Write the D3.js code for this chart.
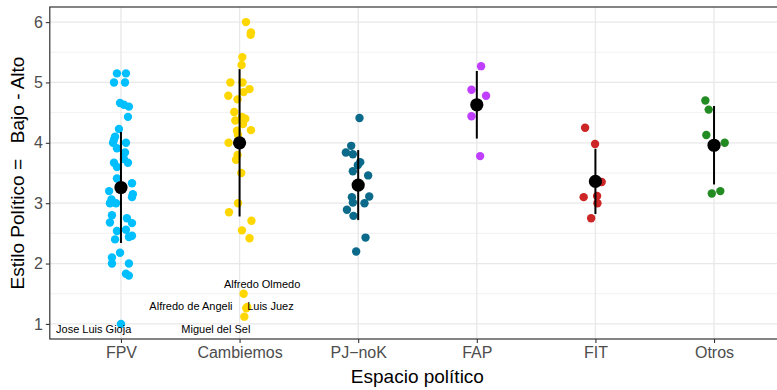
<!DOCTYPE html>
<html>
<head>
<meta charset="utf-8">
<script src="https://cdn.jsdelivr.net/npm/d3@7"></script>
<style>
  html, body { margin: 0; padding: 0; background: #fff; }
  svg { display: block; font-family: "Liberation Sans", Arial, Helvetica, sans-serif; }
</style>
</head>
<body>
<svg id="chart" width="777" height="390"></svg>
<script>
// ---- DATA ----
const categories = ["FPV", "Cambiemos", "PJ\u2212noK", "FAP", "FIT", "Otros"];
const colors = ["#00BFFF", "#FFD700", "#0B6A8A", "#BF3EFF", "#CD2626", "#228B22"];
const yTicks = [1, 2, 3, 4, 5, 6];

const fpvValues = [5.15,5.15,5.0,5.0,4.66,4.63,4.60,4.43,4.23,4.10,4.05,4.0,4.0,3.91,3.84,3.73,3.67,3.67,3.60,3.41,3.33,3.20,3.15,3.10,3.06,3.0,3.0,2.80,2.75,2.68,2.67,2.54,2.56,2.46,2.44,2.40,2.18,2.10,2.0,2.0,1.83,1.80,1.0];
const fpvJitter = [-0.034,0.042,-0.059,0.034,-0.008,0.025,0.067,0.059,-0.017,-0.05,-0.059,-0.067,0.042,-0.034,0.034,0.025,-0.059,0.059,-0.034,-0.034,0.093,-0.1,0.1,0.093,-0.08,-0.093,-0.042,-0.076,0.05,-0.093,0.093,-0.034,0.042,0.093,0.067,-0.05,-0.008,-0.076,-0.076,0.067,0.042,0.067,0.0];

const cambValues = [6.0,5.83,5.79,5.42,5.29,5.0,5.0,4.89,4.84,4.78,4.72,4.51,4.37,4.43,4.40,4.31,4.20,4.21,4.13,4.0,3.80,3.72,3.50,3.0,2.85,2.71,2.55,2.42,1.50,1.26,1.28,1.12];
const cambJitter = [0.054,0.096,0.093,0.023,0.017,-0.078,0.025,0.084,0.034,-0.095,-0.017,-0.045,-0.036,0.02,0.048,0.029,-0.022,0.096,-0.013,-0.093,-0.017,-0.03,0.014,-0.013,-0.089,0.1,0.02,0.084,0.034,0.056,0.065,0.04];

const pjValues = [4.41,3.95,3.84,3.81,3.68,3.63,3.53,3.46,3.10,3.11,3.01,3.0,2.89,2.79,2.43,2.20];
const pjJitter = [0.011,-0.059,-0.104,-0.045,0.017,-0.003,-0.045,0.084,-0.053,0.093,-0.045,0.053,-0.095,-0.04,0.062,-0.017];

const fapValues = [5.27,4.88,4.78,4.44,3.78];
const fapJitter = [0.036,-0.045,0.078,-0.045,0.028];

const fitValues = [4.25,3.98,3.35,3.10,3.12,3.0,2.75];
const fitJitter = [-0.087,-0.003,0.053,-0.099,0.014,0.017,-0.036];

const otrosValues = [4.70,4.55,4.13,4.0,3.16,3.20];
const otrosJitter = [-0.073,-0.045,-0.065,0.09,-0.019,0.053];

const means = [3.26, 4.0, 3.30, 4.63, 3.36, 3.96];
const sds = [0.92, 1.22, 0.58, 0.56, 0.54, 0.65];

// labelled politicians: label position in data units (category index 1..6, value)
const labelNames = ["Jose Luis Gioja", "Miguel del Sel", "Alfredo de Angeli", "Luis Juez", "Alfredo Olmedo"];
const labelX = [0.77, 1.80, 1.59, 2.26, 2.19];
const labelY = [0.92, 0.92, 1.30, 1.30, 1.66];

// ---- BUILD ----
const valueSets = [fpvValues, cambValues, pjValues, fapValues, fitValues, otrosValues];
const jitterSets = [fpvJitter, cambJitter, pjJitter, fapJitter, fitJitter, otrosJitter];
const points = [];
valueSets.forEach((vals, i) => vals.forEach((v, k) => points.push({cat: categories[i], ci: i, v: v, j: jitterSets[i][k]})));

const svg = d3.select("#chart");
const panel = {left: 49.8, right: 785.2, top: 7, bottom: 339};

const x = d3.scalePoint().domain(categories).range([panel.left, panel.right]).padding(0.6);
const step = x.step();
const xIdx = d => x(categories[0]) + (d - 1) * step;
const y = d3.scaleLinear().domain([0.75, 6.25]).range([panel.bottom, panel.top]);

svg.append("rect").attr("x", panel.left).attr("y", panel.top)
  .attr("width", panel.right - panel.left).attr("height", panel.bottom - panel.top)
  .attr("fill", "#fff");

// grid
const grid = svg.append("g");
const minor = d3.range(1.5, 6.0, 1);
grid.selectAll("line.minor").data(minor).enter().append("line")
  .attr("x1", panel.left).attr("x2", panel.right)
  .attr("y1", d => y(d)).attr("y2", d => y(d))
  .attr("stroke", "#EBEBEB").attr("stroke-width", 0.7);
grid.selectAll("line.majy").data(yTicks).enter().append("line")
  .attr("x1", panel.left).attr("x2", panel.right)
  .attr("y1", d => y(d)).attr("y2", d => y(d))
  .attr("stroke", "#E8E8E8").attr("stroke-width", 1.3);
grid.selectAll("line.majx").data(categories).enter().append("line")
  .attr("x1", d => x(d)).attr("x2", d => x(d))
  .attr("y1", panel.top).attr("y2", panel.bottom)
  .attr("stroke", "#E8E8E8").attr("stroke-width", 1.3);

// jittered points
svg.append("g").selectAll("circle").data(points).enter().append("circle")
  .attr("cx", d => x(d.cat) + d.j * step)
  .attr("cy", d => y(d.v))
  .attr("r", 4.2)
  .attr("fill", d => colors[d.ci]);

// labels
svg.append("g").selectAll("text").data(labelNames).enter().append("text")
  .attr("x", (d, i) => xIdx(labelX[i]))
  .attr("y", (d, i) => y(labelY[i]))
  .attr("text-anchor", "middle")
  .attr("dominant-baseline", "central")
  .attr("font-size", 11)
  .attr("fill", "#000")
  .text(d => d);

// error bars + means
const summ = svg.append("g");
summ.selectAll("line").data(categories).enter().append("line")
  .attr("x1", d => x(d)).attr("x2", d => x(d))
  .attr("y1", (d, i) => y(means[i] - sds[i]))
  .attr("y2", (d, i) => y(means[i] + sds[i]))
  .attr("stroke", "#000").attr("stroke-width", 2);
summ.selectAll("circle").data(categories).enter().append("circle")
  .attr("cx", d => x(d)).attr("cy", (d, i) => y(means[i]))
  .attr("r", 6.6).attr("fill", "#000");

// panel border
svg.append("rect").attr("x", panel.left).attr("y", panel.top)
  .attr("width", panel.right - panel.left).attr("height", panel.bottom - panel.top)
  .attr("fill", "none").attr("stroke", "#333333").attr("stroke-width", 1.2);

// axes
const xAxis = svg.append("g").attr("transform", `translate(0,${panel.bottom})`)
  .call(d3.axisBottom(x).tickSize(4).tickPadding(4));
const yAxis = svg.append("g").attr("transform", `translate(${panel.left},0)`)
  .call(d3.axisLeft(y).tickValues(yTicks).tickSize(4).tickPadding(3).tickFormat(d3.format("d")));
[xAxis, yAxis].forEach(a => {
  a.select(".domain").remove();
  a.selectAll(".tick line").attr("stroke", "#333333").attr("stroke-width", 1.1);
  a.selectAll(".tick text").attr("fill", "#4D4D4D").attr("font-size", 16)
    .attr("font-family", "Liberation Sans, Arial, sans-serif");
});

// axis titles
svg.append("text").attr("x", (panel.left + 777) / 2 + 4).attr("y", 383)
  .attr("text-anchor", "middle").attr("font-size", 19).attr("fill", "#000")
  .text("Espacio político");
svg.append("text")
  .attr("transform", `translate(24,${(panel.top + panel.bottom) / 2}) rotate(-90)`)
  .attr("text-anchor", "middle").attr("font-size", 19).attr("fill", "#000")
  .style("white-space", "pre")
  .text("Estilo Político =   Bajo - Alto");
</script>
</body>
</html>
